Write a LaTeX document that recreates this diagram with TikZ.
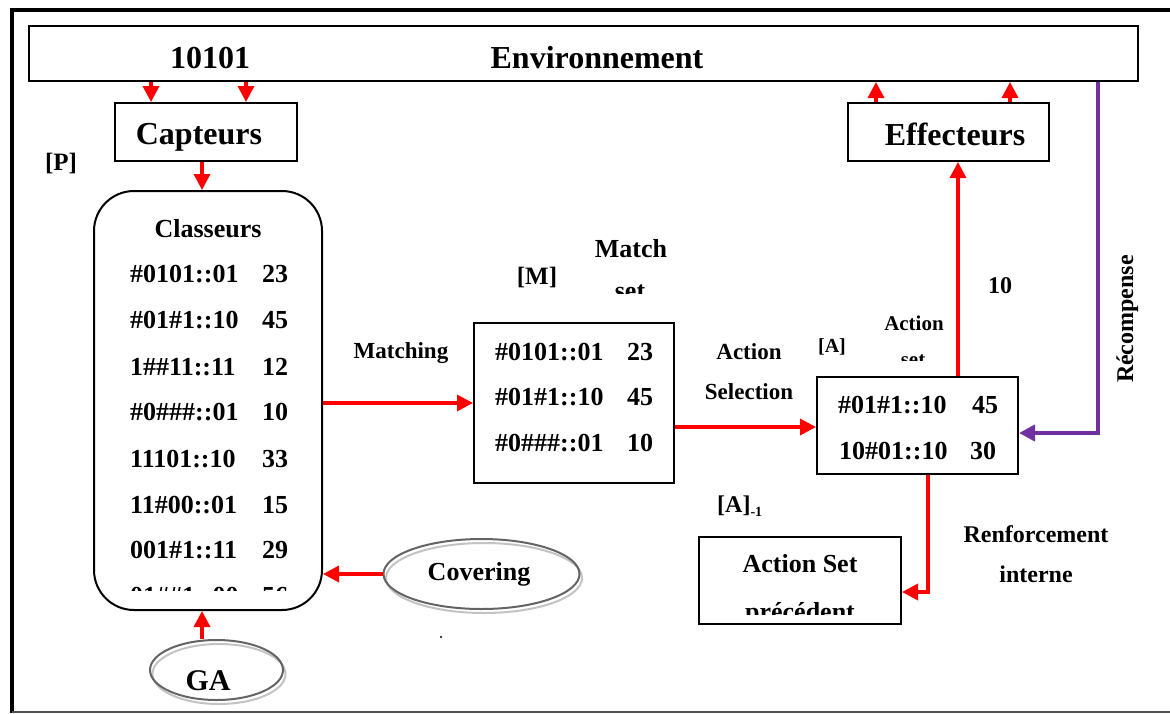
\documentclass[tikz,border=0pt]{standalone}
\usepackage{fontspec}
\setmainfont{Liberation Serif}
\usetikzlibrary{arrows.meta,shapes.geometric}
\definecolor{purp}{RGB}{112,48,160}
\definecolor{ellgray}{RGB}{100,100,100}
\definecolor{shgray}{RGB}{195,195,195}
\definecolor{framegray}{RGB}{80,80,80}
\newcommand{\fs}[1]{\fontsize{#1}{#1}\selectfont\bfseries}

\begin{document}
\begin{tikzpicture}[x=1pt,y=-1pt,
  box/.style={draw=black, line width=2pt, inner sep=0pt, rectangle},
  txt/.style={inner sep=0pt, anchor=base},
  ltxt/.style={inner sep=0pt, anchor=base west},
  ra/.style={draw=red, line width=3.5pt, -{Triangle[length=16pt,width=16pt]}},
  pa/.style={draw=purp, line width=4pt, -{Triangle[length=16pt,width=16pt]}},
  oval/.style={ellipse, draw=ellgray, line width=2pt, inner sep=0pt},
  ovalsh/.style={ellipse, draw=shgray, line width=2pt, inner sep=0pt},
]
\useasboundingbox (0,0) rectangle (1170,713);

% outer frame
\draw[line width=3.3pt] (12,713) -- (12,10) -- (1170,10);
\draw[line width=2pt, framegray] (12,712) -- (1170,712);

% environment
\node[box, minimum width=1109pt, minimum height=55pt] (env) at (583.5,53.5) {};
\node[txt, font=\fs{32}] (bits) at (210,68) {10101};
\node[txt, font=\fs{32}] (envname) at (597,68) {Environnement};

% sensors and effectors
\node[box, minimum width=182pt, minimum height=58pt] (capt) at (206,132) {};
\node[txt, font=\fs{32}] (captname) at (199,144) {Capteurs};
\node[box, minimum width=201pt, minimum height=58pt] (eff) at (948.5,132) {};
\node[txt, font=\fs{32}] (effname) at (955,145) {Effecteurs};

\coordinate (a1) at (151,0);
\coordinate (a2) at (246,0);
\coordinate (b1) at (876,0);
\coordinate (b2) at (1010,0);
\draw[ra] (env.south -| a1) -- (capt.north -| a1);
\draw[ra] (env.south -| a2) -- (capt.north -| a2);
\draw[ra] (eff.north -| b1) -- (env.south -| b1);
\draw[ra] (eff.north -| b2) -- (env.south -| b2);

\node[txt, font=\fs{25}] (plabel) at (61,170) {[P]};

% population of classifiers
\node[box, rounded corners=40pt, minimum width=228pt, minimum height=419pt] (cls) at (208,400.5) {};
\coordinate (c0) at (202,0);
\draw[ra] (capt.south -| c0) -- (cls.north -| c0);
\node[txt, font=\fs{26}] (clstitle) at (208,237) {Classeurs};
\foreach \code/\fit/\yb [count=\i] in {
  \#0101::01/23/282, \#01\#1::10/45/328, 1\#\#11::11/12/375,
  \#0\#\#\#::01/10/420, 11101::10/33/467, 11\#00::01/15/513,
  001\#1::11/29/558} {
  \node[ltxt, font=\fs{26}] (cc\i) at (130,\yb) {\code};
  \node[ltxt, font=\fs{26}] (cf\i) at (262,\yb) {\fit};
}
\begin{scope}
  \clip (100,570) rectangle (320,590);
  \node[ltxt, font=\fs{26}] (cc8) at (130,604) {01\#\#1::00};
  \node[ltxt, font=\fs{26}] (cf8) at (262,604) {56};
\end{scope}

% match set
\node[box, minimum width=200pt, minimum height=160pt] (mset) at (574,403) {};
\foreach \code/\fit/\yb [count=\i] in {
  \#0101::01/23/360, \#01\#1::10/45/405, \#0\#\#\#::01/10/451} {
  \node[ltxt, font=\fs{26}] (mc\i) at (495,\yb) {\code};
  \node[ltxt, font=\fs{26}] (mf\i) at (627,\yb) {\fit};
}
\node[txt, font=\fs{25}] (mlab) at (537,284) {[M]};
\node[txt, font=\fs{26}] (mname) at (631,257) {Match};
\begin{scope}
  \clip (590,270) rectangle (680,293);
  \node[txt, font=\fs{26}] (mname2) at (630,299) {set};
\end{scope}
\draw[ra] (cls.east |- mset.west) -- (mset.west);
\node[txt, font=\fs{23}] (matching) at (401,358) {Matching};

% action set
\node[box, minimum width=201pt, minimum height=97pt] (aset) at (917.5,425.5) {};
\node[ltxt, font=\fs{26}] (ac1) at (838,413) {\#01\#1::10};
\node[ltxt, font=\fs{26}] (af1) at (972,413) {45};
\node[ltxt, font=\fs{26}] (ac2) at (839,459) {10\#01::10};
\node[ltxt, font=\fs{26}] (af2) at (970,459) {30};
\coordinate (m1) at (0,427);
\draw[ra] (mset.east |- m1) -- (aset.west |- m1);
\node[txt, font=\fs{23}] (selA) at (749,359) {Action};
\node[txt, font=\fs{23}] (selB) at (749,399) {Selection};
\node[txt, font=\fs{20}] (alab) at (832,352) {[A]};
\node[txt, font=\fs{21}] (aname) at (914,330) {Action};
\begin{scope}
  \clip (880,345) rectangle (950,360);
  \node[txt, font=\fs{21}] (aname2) at (913,366) {set};
\end{scope}

% action to effectors
\coordinate (k1) at (958,0);
\draw[ra] (aset.north -| k1) -- (eff.south -| k1);
\node[txt, font=\fs{24}] (actval) at (1000,293) {10};

% reward
\coordinate (p1) at (1098,0);
\coordinate (p2) at (0,433);
\draw[pa] (env.south -| p1) -- (p1 |- p2) -- (aset.east |- p2);
\node[inner sep=0pt, anchor=base, rotate=90, font=\fs{24}] (rec) at (1133,319) {Récompense};

% previous action set
\node[ltxt, font=\fs{24}] (aprev) at (717,512) {[A]\raisebox{-4pt}{\fs{14}-1}};
\node[box, minimum width=202pt, minimum height=87pt] (prev) at (800,580.5) {};
\node[txt, font=\fs{26}] (prevA) at (800,572) {Action Set};
\begin{scope}
  \clip (705,595) rectangle (895,614);
  \node[txt, font=\fs{26}] (prevB) at (800,620) {précédent};
\end{scope}
\coordinate (q1) at (928,0);
\coordinate (q2) at (0,592);
\draw[ra] (aset.south -| q1) -- (q1 |- q2) -- (prev.east |- q2);
\node[txt, font=\fs{24}] (renfA) at (1036,542) {Renforcement};
\node[txt, font=\fs{24}] (renfB) at (1036,582) {interne};

% covering and genetic algorithm
\node[ovalsh, minimum width=196pt, minimum height=70pt] (covsh) at (484,578) {};
\node[oval, minimum width=196pt, minimum height=70pt] (cov) at (481.5,574) {};
\node[txt, font=\fs{26}] (covname) at (479,580) {Covering};
\draw[ra] (cov.west) -- (cls.east |- cov.west);

\node[ovalsh, minimum width=133pt, minimum height=60pt] (gash) at (219,674) {};
\node[oval, minimum width=133pt, minimum height=60pt] (ga) at (216.5,670) {};
\node[txt, font=\fs{30}] (ganame) at (208,690) {GA};
\coordinate (g1) at (202,0);
\draw[ra] (ga.north -| g1) -- (cls.south -| g1);

\node[circle, fill=black, inner sep=0.8pt] (dot) at (441,637) {};
\end{tikzpicture}
\end{document}
